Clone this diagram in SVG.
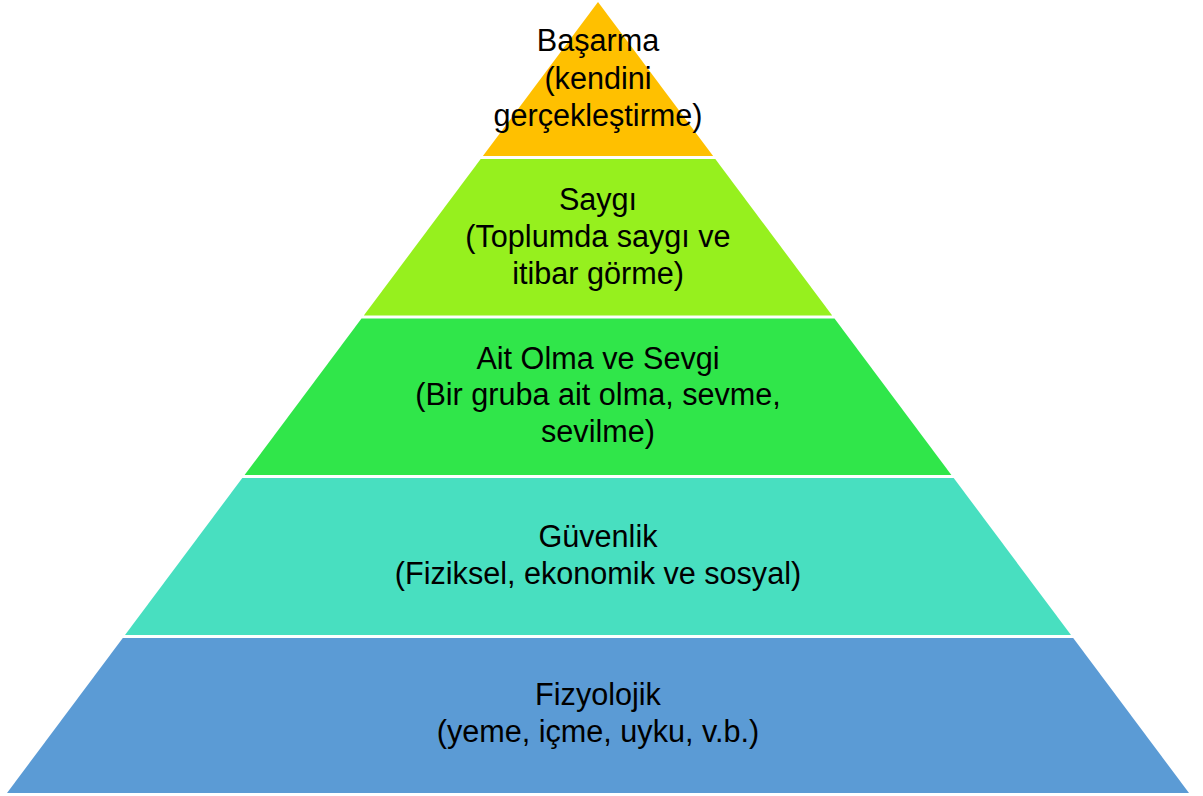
<svg xmlns="http://www.w3.org/2000/svg" width="1203" height="796" viewBox="0 0 1203 796">
<style>
text{font-family:"Liberation Sans",Arial,sans-serif;font-size:30.6px;fill:#000;text-anchor:middle}
</style>
<rect width="1203" height="796" fill="#fff"/>
<g id="level5-basarma">
<polygon points="598,2 713.1,156 482.9,156" fill="#FFC000"/>
<text x="598" y="51">Başarma</text>
<text x="598" y="88.5">(kendini</text>
<text x="598" y="126">gerçekleştirme)</text>
</g>
<g id="level4-saygi">
<polygon points="480.7,159 715.3,159 832.2,315.5 363.8,315.5" fill="#96F01E"/>
<text x="598" y="209.5">Saygı</text>
<text x="598" y="246.5">(Toplumda saygı ve</text>
<text x="598" y="283.5">itibar görme)</text>
</g>
<g id="level3-ait-olma">
<polygon points="361.5,318.5 834.5,318.5 951.4,475 244.6,475" fill="#30E64A"/>
<text x="598" y="368.5">Ait Olma ve Sevgi</text>
<text x="598" y="405">(Bir gruba ait olma, sevme,</text>
<text x="598" y="441.5">sevilme)</text>
</g>
<g id="level2-guvenlik">
<polygon points="242.3,478 953.7,478 1071,635 125,635" fill="#48DFC0"/>
<text x="598" y="546.5">Güvenlik</text>
<text x="598" y="583.5">(Fiziksel, ekonomik ve sosyal)</text>
</g>
<g id="level1-fizyolojik">
<polygon points="122.8,638 1073.2,638 1189,793 7,793" fill="#5B9BD5"/>
<text x="598" y="705">Fizyolojik</text>
<text x="598" y="741.5">(yeme, içme, uyku, v.b.)</text>
</g>
<g id="connectors"/>
</svg>
